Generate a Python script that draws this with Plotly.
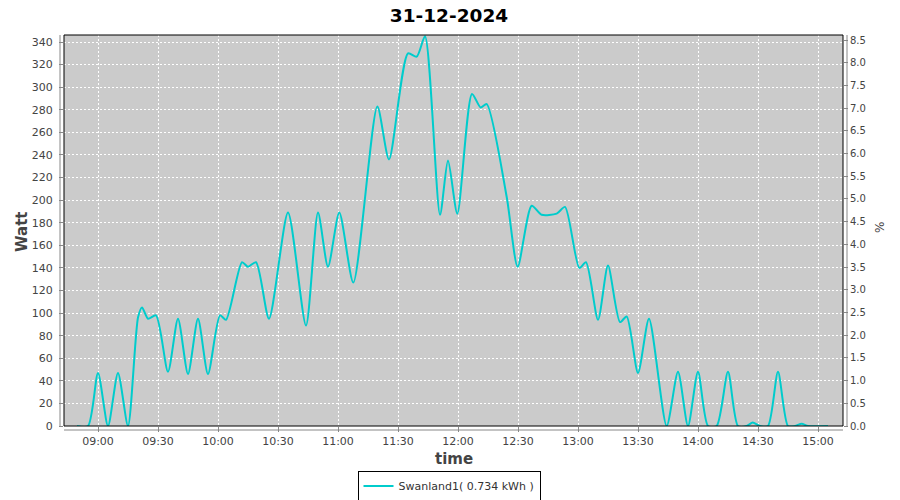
import plotly.graph_objects as go

DATE = "2024-12-31"
times = ["08:49:30", "08:55:00", "09:00:00", "09:05:00", "09:10:00", "09:15:00",
         "09:20:00", "09:22:00", "09:25:00", "09:29:00", "09:35:00", "09:40:00",
         "09:45:00", "09:50:00", "09:55:00", "10:01:00", "10:04:00", "10:12:00",
         "10:15:00", "10:19:00", "10:25:30", "10:35:00", "10:44:00", "10:50:00",
         "10:55:00", "11:00:40", "11:07:40", "11:19:40", "11:25:30", "11:35:00",
         "11:39:20", "11:43:30", "11:51:00", "11:55:00", "11:59:40", "12:07:00",
         "12:11:20", "12:14:20", "12:24:20", "12:29:50", "12:36:50", "12:41:50",
         "12:49:20", "12:53:30", "13:00:40", "13:04:00", "13:10:00", "13:15:00",
         "13:21:00", "13:24:20", "13:30:00", "13:35:30", "13:44:20", "13:50:00",
         "13:55:00", "14:00:00", "14:05:00", "14:09:20", "14:15:00", "14:20:00",
         "14:24:20", "14:27:20", "14:31:00", "14:35:00", "14:40:00", "14:45:00",
         "14:48:30", "14:51:50", "14:55:00", "15:05:00"]
watts = [0, 0, 47, 0, 47, 0,
         96, 105, 95, 98, 48, 95,
         46, 95, 46, 98, 94, 145,
         141, 145, 95, 189, 89, 189,
         141, 189, 127, 283, 236, 330,
         327, 345, 187, 235, 188, 294,
         282, 285, 203, 141, 195, 187,
         188, 194, 140, 145, 94, 142,
         92, 97, 47, 95, 0, 48,
         0, 48, 0, 0, 48, 0,
         0, 3, 0, 0, 48, 0,
         0, 2, 0, 0]

series_name = "Swanland1( 0.734 kWh )"
title_text = "31-12-2024"
y_title = "Watt"
x_title = "time"
y2_title = "%"

x_vals = [f"{DATE} {t}" for t in times]

fig = go.Figure()
fig.add_trace(go.Scatter(
    x=x_vals, y=watts, mode="lines", name=series_name,
    line=dict(color="#00CCCC", width=2, shape="spline", smoothing=0.7),
))
# invisible trace to show the secondary (%) axis
fig.add_trace(go.Scatter(
    x=[x_vals[0]], y=[0], yaxis="y2", mode="markers",
    marker=dict(opacity=0), showlegend=False, hoverinfo="skip",
))

tickfont = dict(family="DejaVu Sans", size=11, color="#444444")
gridkw = dict(showgrid=True, gridcolor="white", gridwidth=1, griddash="2px,2px")

# page body has an 8px margin, so the figure is sized/placed to compensate
FW, FH = 892, 492
fig.update_layout(
    width=FW, height=FH,
    margin=dict(l=56, r=57, t=27, b=74, autoexpand=False),
    paper_bgcolor="white",
    plot_bgcolor="#CBCBCB",
    title=dict(text=f"<b>{title_text}</b>", x=(449 - 8) / FW, xanchor="center",
               y=1 - 8 / FH, yanchor="middle",
               font=dict(family="DejaVu Sans", size=18.5, color="black")),
    xaxis=dict(
        type="date",
        range=[f"{DATE} 08:43:00", f"{DATE} 15:12:30"],
        tick0=f"{DATE} 09:00:00", dtick=30 * 60 * 1000, tickformat="%H:%M",
        ticks="outside", ticklen=5, tickcolor="#888888",
        tickfont=tickfont, zeroline=False, showline=False, automargin=False, **gridkw,
    ),
    yaxis=dict(
        range=[0, 346.2], dtick=20, tick0=0,
        ticks="outside", ticklen=4, tickcolor="#888888",
        ticklabelstandoff=4, automargin=False,
        tickfont=tickfont, zeroline=False, showline=False, **gridkw,
    ),
    yaxis2=dict(
        overlaying="y", side="right", range=[0, 8.61], dtick=0.5, tick0=0,
        tickformat=".1f", ticks="outside", ticklen=4, tickcolor="#888888",
        tickfont=dict(family="DejaVu Sans", size=10, color="#444444"),
        showgrid=False, zeroline=False, showline=False, automargin=False,
    ),
    legend=dict(
        orientation="h", x=(449 - 64) / 779, xanchor="center", y=(426 - 486) / 391,
        yanchor="middle", bordercolor="black", borderwidth=1,
        font=dict(family="DejaVu Sans", size=11, color="#333333"),
        bgcolor="white",
    ),
    showlegend=True,
)

W = 779.0
H = 391.0
shapes = [
    dict(type="rect", xref="paper", yref="paper", x0=0, x1=1, y0=0, y1=1,
         line=dict(color="black", width=1), layer="above"),
    dict(type="line", xref="paper", yref="paper", x0=-4 / W, x1=-4 / W, y0=0, y1=1,
         line=dict(color="#888888", width=1)),
    dict(type="line", xref="paper", yref="paper", x0=1 + 4 / W, x1=1 + 4 / W, y0=0, y1=1,
         line=dict(color="#888888", width=1)),
    dict(type="line", xref="paper", yref="paper", x0=0, x1=1, y0=-4 / H, y1=-4 / H,
         line=dict(color="#888888", width=1)),
]
fig.update_layout(shapes=shapes)

fig.add_annotation(text=f"<b>{y_title}</b>", xref="paper", yref="paper",
                   x=(22 - 64) / W, y=(426 - 232) / H, showarrow=False, textangle=-90,
                   xanchor="center", yanchor="middle",
                   font=dict(family="DejaVu Sans", size=15, color="#444444"))
fig.add_annotation(text=f"<b>{x_title}</b>", xref="paper", yref="paper",
                   x=(454 - 64) / W, y=(426 - 459) / H, showarrow=False,
                   xanchor="center", yanchor="middle",
                   font=dict(family="DejaVu Sans", size=15, color="#444444"))
fig.add_annotation(text=y2_title, xref="paper", yref="paper",
                   x=(880 - 64) / W, y=(426 - 228) / H, showarrow=False, textangle=-90,
                   xanchor="center", yanchor="middle",
                   font=dict(family="DejaVu Sans", size=12, color="#444444"))

fig.write_html("out.html")
